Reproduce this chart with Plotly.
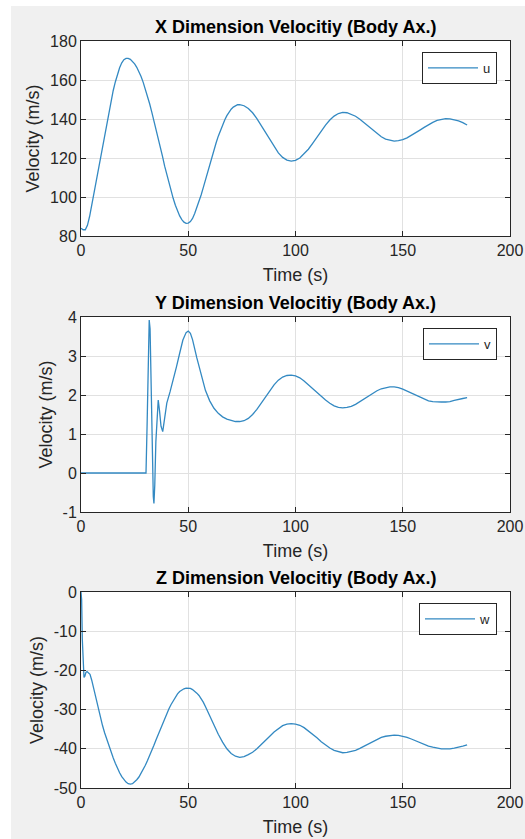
import plotly.graph_objects as go

W, H = 525, 839

# ---------------- data ----------------
t_u = list(range(0, 77)) + list(range(78, 181, 2))
u = [84.0, 83.2, 83.2, 85.5, 90.0, 96.0, 102.0, 108.5, 114.5, 120.5,
     126.5, 132.0, 138.0, 144.0, 149.5, 154.5, 159.0, 163.0, 166.3, 168.8,
     170.4, 171.1, 171.1, 170.6, 169.6, 168.3, 166.5, 164.3, 161.8, 158.8,
     155.5, 151.8, 147.8, 143.5, 139.2, 134.8, 130.2, 125.5, 120.8, 115.8,
     111.3, 107.0, 103.0, 99.2, 95.8, 92.8, 90.3, 88.4, 87.1, 86.5,
     86.6, 87.4, 89.0, 91.5, 94.5, 97.5, 101.0, 104.8, 108.8, 112.8,
     116.8, 120.5, 124.2, 127.8, 131.2, 134.3, 137.0, 139.5, 141.7, 143.5,
     145.0, 146.1, 146.9, 147.3, 147.4, 147.2, 146.8,
     145.4, 143.2, 140.2, 136.7, 132.9, 129.1, 125.6, 122.6, 120.3, 118.9,
     118.4, 118.8, 120.0, 122.0, 124.5, 127.5, 130.7, 133.9, 136.9, 139.5,
     141.5, 142.8, 143.4, 143.2, 142.5, 141.4, 139.9, 138.1, 136.2, 134.3,
     132.5, 130.9, 129.7, 129.0, 128.7, 128.9, 129.4, 130.3, 131.5, 132.8,
     134.3, 135.7, 137.1, 138.3, 139.3, 139.9, 140.2, 140.1, 139.7, 139.0,
     138.1, 136.9]

t_v = [0, 30.3, 30.8, 31.3, 31.8, 32.2, 32.7, 33.2, 33.7, 34.0,
       34.4, 34.9, 35.5, 36.0, 36.6, 37.3, 38.1, 38.8, 40.0, 41.5,
       43.0, 44.5, 46.0, 47.5, 49.0, 50.0, 51.0] + list(range(52, 181, 2))
v = [0.0, 0.0, 1.2, 3.0, 3.92, 3.7, 2.2, 0.5, -0.6, -0.78,
     -0.3, 0.8, 1.6, 1.87, 1.6, 1.2, 1.06, 1.35, 1.79, 2.08,
     2.38, 2.72, 3.07, 3.41, 3.6, 3.64, 3.58,
     3.42, 2.95, 2.50, 2.12, 1.85, 1.66, 1.53, 1.44, 1.38, 1.34,
     1.32, 1.32, 1.34, 1.40, 1.50, 1.63, 1.79, 1.96, 2.12, 2.26,
     2.38, 2.46, 2.50, 2.51, 2.49, 2.44, 2.36, 2.26, 2.16, 2.06,
     1.96, 1.87, 1.79, 1.72, 1.68, 1.67, 1.68, 1.71, 1.76, 1.83,
     1.90, 1.98, 2.05, 2.11, 2.16, 2.19, 2.21, 2.21, 2.19, 2.15,
     2.10, 2.04, 1.98, 1.93, 1.88, 1.85, 1.83, 1.82, 1.82, 1.82,
     1.83, 1.86, 1.89, 1.91, 1.93]

t_w = [0, 0.3, 0.6, 1.0, 1.4, 1.8, 2.3, 2.8, 3.3, 4.2] + list(range(5, 61)) + list(range(62, 181, 2))
w = [0.0, -2.0, -12.0, -20.0, -21.8, -21.5, -20.5, -20.3, -20.5, -21.0,
     -22.5, -24.9, -27.3, -29.7, -32.0, -34.0, -35.9, -37.6, -39.2, -40.8,
     -42.3, -43.7, -45.0, -46.1, -47.1, -47.9, -48.5, -48.9, -49.0, -48.9,
     -48.5, -47.9, -47.2, -46.3, -45.3, -44.2, -43.0, -41.8, -40.5, -39.1,
     -37.7, -36.3, -34.9, -33.6, -32.3, -31.0, -29.8, -28.7, -27.7, -26.8,
     -26.0, -25.4, -25.0, -24.7, -24.5, -24.5, -24.6, -24.9, -25.3, -25.8,
     -26.4, -27.2, -28.1, -29.2, -30.4, -31.6,
     -34.0, -36.3, -38.3, -40.0, -41.2, -41.9, -42.2, -42.0, -41.5, -40.9,
     -40.0, -39.0, -37.9, -36.8, -35.7, -34.8, -34.1, -33.7, -33.6, -33.7,
     -34.0, -34.6, -35.4, -36.3, -37.2, -38.2, -39.1, -39.8, -40.4, -40.8,
     -41.0, -40.9, -40.7, -40.4, -39.9, -39.3, -38.7, -38.1, -37.6, -37.1,
     -36.8, -36.6, -36.5, -36.6, -36.8, -37.1, -37.5, -38.0, -38.4, -38.9,
     -39.3, -39.6, -39.8, -40.0, -40.0, -40.0, -39.8, -39.6, -39.3, -39.0]

titles = ["X Dimension Velocitiy (Body Ax.)",
          "Y Dimension Velocitiy (Body Ax.)",
          "Z Dimension Velocitiy (Body Ax.)"]
names = ["u", "v", "w"]
x_label = "Time (s)"
y_label = "Velocity (m/s)"
x_range = [0, 200]
x_ticks = [0, 50, 100, 150, 200]
x_ticktext = ["0", "50", "100", "150", "200"]
y_ranges = [[80, 180], [-1, 4], [-50, 0]]
y_ticks = [[80, 100, 120, 140, 160, 180],
           [-1, 0, 1, 2, 3, 4],
           [-50, -40, -30, -20, -10, 0]]
y_ticktext = [["80", "100", "120", "140", "160", "180"],
              ["-1", "0", "1", "2", "3", "4"],
              ["-50", "-40", "-30", "-20", "-10", "0"]]

assert len(t_u) == len(u) and len(t_v) == len(v) and len(t_w) == len(w)

# ---------------- style ----------------
FONT = "Liberation Sans, Arial, Helvetica, sans-serif"
AX = "#262626"
GRID = "#e1e1e1"
LINE = "#3389c2"

# pixel geometry of the three axes boxes (top, bottom)
boxes = [(41, 236), (317, 512), (592, 788)]
x0_px, x1_px = 81, 510
legend_tops = [52, 328, 603]
title_y = [27, 303, 578]

fig = go.Figure()
series = [(t_u, u), (t_v, v), (t_w, w)]
for i, (tx, ty) in enumerate(series):
    k = "" if i == 0 else str(i + 1)
    fig.add_trace(go.Scatter(x=tx, y=ty, mode="lines", name=names[i],
                             line=dict(color=LINE, width=1.3),
                             xaxis="x" + k, yaxis="y" + k,
                             legend="legend" + k))

layout = dict(width=W, height=H, margin=dict(l=0, r=0, t=0, b=0),
              paper_bgcolor="#f0f0f0", plot_bgcolor="white",
              font=dict(family=FONT, color=AX), showlegend=True)

annotations = []
for i in range(3):
    k = "" if i == 0 else str(i + 1)
    top, bot = boxes[i]
    layout["xaxis" + k] = dict(
        domain=[x0_px / W, x1_px / W], anchor="y" + k, automargin=False,
        range=x_range, tickmode="array", tickvals=x_ticks, ticktext=x_ticktext,
        showgrid=True, gridcolor=GRID, gridwidth=1, zeroline=False,
        showline=True, linecolor=AX, linewidth=1, mirror="ticks",
        ticks="inside", ticklen=5, tickcolor=AX,
        tickfont=dict(family=FONT, size=16, color=AX),
        title=dict(text=x_label, font=dict(family=FONT, size=18, color=AX), standoff=10),
    )
    layout["yaxis" + k] = dict(
        domain=[1 - bot / H, 1 - top / H], anchor="x" + k, automargin=False,
        range=y_ranges[i], tickmode="array", tickvals=y_ticks[i], ticktext=y_ticktext[i],
        showgrid=True, gridcolor=GRID, gridwidth=1, zeroline=False,
        showline=True, linecolor=AX, linewidth=1, mirror="ticks",
        ticks="inside", ticklen=5, tickcolor=AX,
        tickfont=dict(family=FONT, size=16, color=AX),
        title=dict(text=y_label, font=dict(family=FONT, size=18, color=AX), standoff=5),
    )
    layout["legend" + k] = dict(
        x=497 / W, xanchor="right", y=1 - legend_tops[i] / H, yanchor="top",
        bgcolor="white", bordercolor=AX, borderwidth=1,
        font=dict(family=FONT, size=13, color=AX),
        itemwidth=50, tracegroupgap=0,
    )
    annotations.append(dict(
        text="<b>" + titles[i] + "</b>", x=(x0_px + x1_px) / 2 / W, y=1 - title_y[i] / H,
        xref="paper", yref="paper", xanchor="center", yanchor="middle",
        showarrow=False, font=dict(family=FONT, size=18, color="#000000")))

layout["annotations"] = annotations
layout["shapes"] = [
    dict(type="rect", xref="paper", yref="paper", x0=0, x1=11 / W, y0=0, y1=1,
         fillcolor="white", line=dict(width=0), layer="below"),
    dict(type="rect", xref="paper", yref="paper", x0=0, x1=1, y0=1 - 6 / H, y1=1,
         fillcolor="white", line=dict(width=0), layer="below"),
]
fig.update_layout(**layout)
fig.write_html("out.html", config={"displayModeBar": False},
               post_script="document.body.style.margin='0px';document.body.style.overflow='hidden';")
